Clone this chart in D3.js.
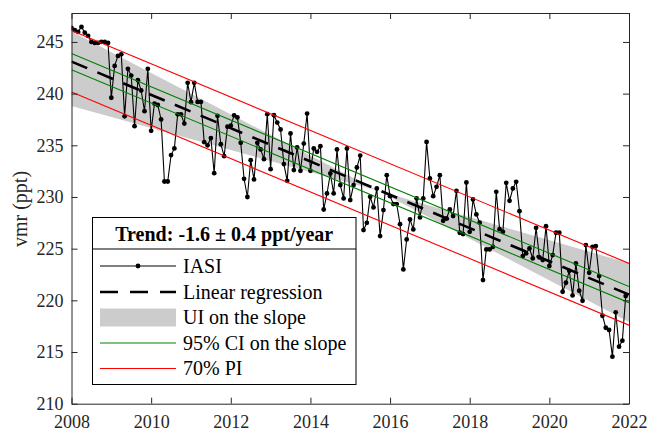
<!DOCTYPE html>
<html><head><meta charset="utf-8">
<script src="https://cdn.jsdelivr.net/npm/d3@7"></script>
<style>body{margin:0;background:#fff}</style>
</head><body>
<svg id="c" width="650" height="433"></svg>
<script>
// ---- data ----
const startYear = 2008; // monthly series starting Jan 2008
const vmr = [246.35,246.13,245.97,246.45,245.9,245.58,245.0,244.9,244.9,245.0,245.0,244.9,
239.6,242.68,243.65,243.8,237.8,242.4,241.75,236.85,241.3,240.3,238.3,242.4,
236.4,239.04,238.9,237.5,231.5,231.5,234.05,234.7,238.0,238.0,237.1,241.04,
239.17,241.04,239.2,239.2,235.3,235.0,235.7,232.3,237.85,235.1,233.95,236.8,
236.9,237.9,237.7,235.24,231.76,230.0,233.56,231.7,235.24,234.6,233.66,238.01,
232.69,237.91,237.2,236.53,233.18,231.56,236.14,232.6,234.79,232.53,235.17,238.07,
232.53,234.69,234.37,234.92,228.79,230.34,232.27,230.34,234.6,231.15,229.86,234.69,
229.7,231.15,232.85,234.01,226.8,227.5,230.02,228.99,230.82,226.22,228.73,232.11,
230.08,229.31,229.31,227.37,222.99,225.89,227.83,226.86,229.86,228.02,229.86,235.33,
231.79,230.08,230.98,232.11,227.7,227.92,228.79,228.15,230.6,226.54,226.41,231.4,
226.63,229.76,228.31,227.51,221.96,224.93,224.93,225.18,230.5,226.89,226.63,231.37,
229.63,230.82,231.47,228.63,224.28,224.54,225.02,224.06,227.02,224.15,223.9,227.18,
223.32,224.38,226.54,226.54,220.83,221.7,222.86,220.48,223.57,220.93,219.96,225.35,
222.67,225.18,225.25,222.35,218.51,217.35,217.13,214.55,218.84,215.52,216.1,220.41];
const lineYears = [2008, 2022];
const fitVals   = [243.1, 220.55];
const ciUpper   = [243.88, 221.33];
const ciLower   = [242.32, 219.77];
const piUpper   = [246.1, 223.57];
const piLower   = [240.15, 217.6];
const bandYears = [2008, 2015.7, 2022];
const bandUpper = [246.0, 230.6, 223.6];
const bandLower = [238.8, 230.6, 217.9];
const xTicks = [2008,2010,2012,2014,2016,2018,2020,2022];
const yTicks = [210,215,220,225,230,235,240,245];
const legendTitle = "Trend: -1.6 \u00b1 0.4 ppt/year";
const legendLabels = ["IASI","Linear regression","UI on the slope","95% CI on the slope","70% PI"];

// ---- drawing ----
const svg = d3.select("#c");
const x = d3.scaleLinear().domain([2008, 2022]).range([71.5, 629]);
const y = d3.scaleLinear().domain([210, 247.8]).range([403.7, 13]);
const axisCol = "#262626";
const font = "'Liberation Serif','Times New Roman',serif";

svg.append("defs").append("clipPath").attr("id","clip")
  .append("rect").attr("x",71.5).attr("y",13).attr("width",629-71.5).attr("height",403.7-13);

const g = svg.append("g").attr("clip-path","url(#clip)");
const band = bandYears.map((t,i)=>({t, lo:bandLower[i], hi:bandUpper[i]}));
g.append("path").datum(band)
  .attr("d", d3.area().x(d=>x(d.t)).y0(d=>y(d.lo)).y1(d=>y(d.hi)))
  .attr("fill","#cccccc");

const pts = vmr.map((v,i)=>({t:startYear + i/12, v}));
const line2 = arr => lineYears.map((t,i)=>[x(t), y(arr[i])]);

g.append("path").attr("d", d3.line()(line2(fitVals)))
  .attr("stroke","#000").attr("stroke-width",2.6).attr("fill","none")
  .attr("stroke-dasharray","17,11");
g.append("path").datum(pts)
  .attr("d", d3.line().x(d=>x(d.t)).y(d=>y(d.v)))
  .attr("fill","none").attr("stroke","#000").attr("stroke-width",1.1);
g.selectAll("circle.m").data(pts).enter().append("circle")
  .attr("cx",d=>x(d.t)).attr("cy",d=>y(d.v)).attr("r",2.4).attr("fill","#000");
[ciUpper, ciLower].forEach(a=>g.append("path").attr("d", d3.line()(line2(a)))
  .attr("stroke","#008000").attr("stroke-width",1.1).attr("fill","none"));
[piUpper, piLower].forEach(a=>g.append("path").attr("d", d3.line()(line2(a)))
  .attr("stroke","#ff0000").attr("stroke-width",1.1).attr("fill","none"));

// axes
const styleAxis = (sel) => {
  sel.selectAll("path.domain").attr("stroke",axisCol).attr("stroke-width",1);
  sel.selectAll(".tick line").attr("stroke",axisCol).attr("stroke-width",1);
  sel.selectAll(".tick text").attr("fill",axisCol).style("font-family",font).style("font-size","18px");
};
const xb = svg.append("g").attr("transform","translate(0,403.7)")
  .call(d3.axisBottom(x).tickValues(xTicks).tickFormat(d3.format("d")).tickSizeInner(-6).tickSizeOuter(0).tickPadding(12));
styleAxis(xb);
const xt = svg.append("g").attr("transform","translate(0,13)")
  .call(d3.axisTop(x).tickValues(xTicks).tickFormat("").tickSizeInner(-6).tickSizeOuter(0));
styleAxis(xt);
const yl = svg.append("g").attr("transform","translate(71.5,0)")
  .call(d3.axisLeft(y).tickValues(yTicks).tickFormat(d3.format("d")).tickSizeInner(-6).tickSizeOuter(0).tickPadding(8));
styleAxis(yl);
const yr = svg.append("g").attr("transform","translate(629,0)")
  .call(d3.axisRight(y).tickValues(yTicks).tickFormat("").tickSizeInner(-6).tickSizeOuter(0));
styleAxis(yr);

svg.append("text").attr("transform","translate(27,209) rotate(-90)")
  .attr("text-anchor","middle").style("font-family",font).style("font-size","20px")
  .attr("fill",axisCol).text("vmr (ppt)");

// legend
const L = svg.append("g");
const lx0 = 92.5, lx1 = 356, ly0 = 217.5, ly1 = 384.5, lsep = 249;
L.append("rect").attr("x",lx0).attr("y",ly0).attr("width",lx1-lx0).attr("height",ly1-ly0)
  .attr("fill","#fff").attr("stroke","#000").attr("stroke-width",1);
L.append("line").attr("x1",lx0).attr("x2",lx1).attr("y1",lsep).attr("y2",lsep)
  .attr("stroke","#000").attr("stroke-width",1);
L.append("text").attr("x",(lx0+lx1)/2).attr("y",240.5).attr("text-anchor","middle")
  .style("font-family",font).style("font-size","20px").style("font-weight","bold").text(legendTitle);
const rowY = [266, 292, 317.5, 343, 368.5];
const sx0 = 100, sx1 = 176;
legendLabels.forEach((lab,i)=>{
  const yy = rowY[i];
  if (i===0){
    L.append("line").attr("x1",sx0).attr("x2",sx1).attr("y1",yy).attr("y2",yy).attr("stroke","#000").attr("stroke-width",1.1);
    L.append("circle").attr("cx",(sx0+sx1)/2).attr("cy",yy).attr("r",2.4).attr("fill","#000");
  } else if (i===1){
    L.append("line").attr("x1",sx0).attr("x2",sx1).attr("y1",yy).attr("y2",yy).attr("stroke","#000")
      .attr("stroke-width",2.6).attr("stroke-dasharray","18,12");
  } else if (i===2){
    L.append("rect").attr("x",sx0).attr("y",yy-9).attr("width",sx1-sx0).attr("height",18).attr("fill","#cccccc");
  } else {
    L.append("line").attr("x1",sx0).attr("x2",sx1).attr("y1",yy).attr("y2",yy)
      .attr("stroke", i===3 ? "#008000" : "#ff0000").attr("stroke-width",1.1);
  }
  L.append("text").attr("x",183).attr("y",yy+6.5).style("font-family",font).style("font-size","20px")
    .attr("fill","#000").text(lab);
});
</script>
</body></html>
